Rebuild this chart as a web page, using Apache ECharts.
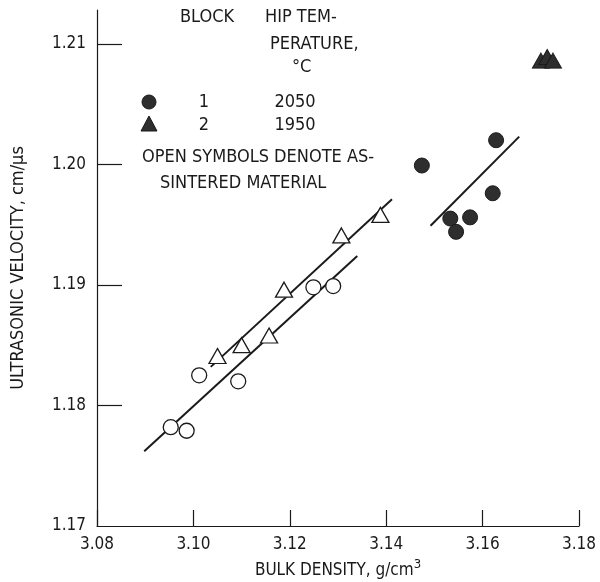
<!DOCTYPE html>
<html>
<head>
<meta charset="utf-8">
<script src="https://cdn.jsdelivr.net/npm/echarts@6/dist/echarts.min.js"></script>
<style>
html, body { margin: 0; padding: 0; background: #fff; }
#main { width: 600px; height: 582px; }
</style>
</head>
<body>
<div id="main"></div>
<script>
// 数据 (bulk density g/cm3, ultrasonic velocity cm/us)
var openCircles = [[3.0953, 1.1782], [3.0986, 1.1779], [3.1012, 1.1825], [3.1093, 1.1820], [3.1249, 1.1898], [3.1290, 1.1899]];
var openTriangles = [[3.1050, 1.1841], [3.1100, 1.1850], [3.1157, 1.1858], [3.1188, 1.1896], [3.1307, 1.1941], [3.1388, 1.1958]];
var filledCircles = [[3.1474, 1.1999], [3.1628, 1.2020], [3.1621, 1.1976], [3.1533, 1.1955], [3.1574, 1.1956], [3.1545, 1.1944]];
var filledTriangles = [[3.1721, 1.2086], [3.1734, 1.2089], [3.1746, 1.2086]];
// fitted lines, end points
var lineOpenCircles = [[3.0898, 1.1762], [3.1340, 1.1924]];
var lineOpenTriangles = [[3.1036, 1.1832], [3.1412, 1.1971]];
var lineFilledCircles = [[3.1492, 1.1949], [3.1676, 1.2023]];

var xTicks = [3.08, 3.10, 3.12, 3.14, 3.16, 3.18];
var yTicks = [1.17, 1.18, 1.19, 1.20, 1.21];

var FONT = '"Liberation Sans Narrow", "DejaVu Sans Condensed", "Open Sans", sans-serif';
var INK = '#1a1a1a';

var myChart = echarts.init(document.getElementById('main'));

function fitLine(d) {
	return {
		type: 'line',
		data: d,
		symbol: 'none',
		silent: true,
		lineStyle: { color: INK, width: 2 },
		z: 1
	};
}

function pts(d, symbol, size, filled) {
	return {
		type: 'scatter',
		data: d,
		symbol: symbol,
		symbolSize: size,
		itemStyle: {
			color: filled ? '#2e2e2e' : '#ffffff',
			borderColor: INK,
			borderWidth: filled ? 1 : 1.3,
			opacity: 1
		},
		z: 3
	};
}

function txt(x, y, s, align) {
	return {
		type: 'text',
		x: x,
		y: y,
		style: {
			text: s,
			fill: INK,
			font: '18px ' + FONT,
			textAlign: align || 'left',
			textVerticalAlign: 'middle'
		}
	};
}

var option = {
	animation: false,
	backgroundColor: '#ffffff',
	grid: { left: 97, right: 21, top: 10, bottom: 56, containLabel: false, outerBoundsMode: 'none' },
	xAxis: {
		type: 'value',
		min: 3.08,
		max: 3.18,
		interval: 0.02,
		name: 'BULK DENSITY, g/cm{sup|3}',
		nameLocation: 'middle',
		nameGap: 29,
		nameTextStyle: {
			color: INK, fontSize: 17, fontFamily: FONT,
			rich: { sup: { fontSize: 13, verticalAlign: 'top', padding: [0, 0, 12, 0], fontFamily: FONT, color: INK } }
		},
		axisLine: { lineStyle: { color: INK, width: 1.2 } },
		axisTick: { inside: true, length: 16, lineStyle: { color: INK, width: 1.2 }, customValues: xTicks },
		axisLabel: {
			customValues: xTicks,
			color: INK, fontSize: 17, fontFamily: FONT, margin: 10,
			formatter: function (v) { return v.toFixed(2); }
		},
		splitLine: { show: false }
	},
	yAxis: {
		type: 'value',
		min: 1.17,
		max: 1.2128,
		name: 'ULTRASONIC VELOCITY, cm/\u03bcs',
		nameLocation: 'middle',
		nameRotate: 90,
		nameGap: 70,
		nameTextStyle: { color: INK, fontSize: 18, fontFamily: FONT },
		axisLine: { show: true, lineStyle: { color: INK, width: 1.2 } },
		axisTick: { show: true, inside: true, length: 25, lineStyle: { color: INK, width: 1.2 }, customValues: yTicks.slice(1) },
		axisLabel: {
			customValues: yTicks,
			color: INK, fontSize: 17, fontFamily: FONT, margin: 11,
			formatter: function (v) { return v.toFixed(2); }
		},
		splitLine: { show: false }
	},
	graphic: [
		txt(180, 17, 'BLOCK'),
		txt(265, 17, 'HIP TEM-'),
		txt(270, 44, 'PERATURE,'),
		txt(292, 67, '\u00b0C'),
		{ type: 'circle', shape: { cx: 149, cy: 102, r: 7 }, style: { fill: '#2e2e2e', stroke: INK, lineWidth: 1 } },
		{ type: 'polygon', shape: { points: [[149, 116], [141, 131], [157, 131]] }, style: { fill: '#2e2e2e', stroke: INK, lineWidth: 1 } },
		txt(204, 102, '1', 'center'),
		txt(295, 102, '2050', 'center'),
		txt(204, 125, '2', 'center'),
		txt(295, 125, '1950', 'center'),
		txt(142, 157, 'OPEN SYMBOLS DENOTE AS-'),
		txt(160, 183, 'SINTERED MATERIAL')
	],
	series: [
		fitLine(lineOpenCircles),
		fitLine(lineOpenTriangles),
		fitLine(lineFilledCircles),
		pts(openCircles, 'circle', 15, false),
		pts(openTriangles, 'triangle', [17, 15], false),
		pts(filledCircles, 'circle', 15, true),
		pts(filledTriangles, 'triangle', [17, 15], true)
	]
};
myChart.setOption(option);
</script>
</body>
</html>
